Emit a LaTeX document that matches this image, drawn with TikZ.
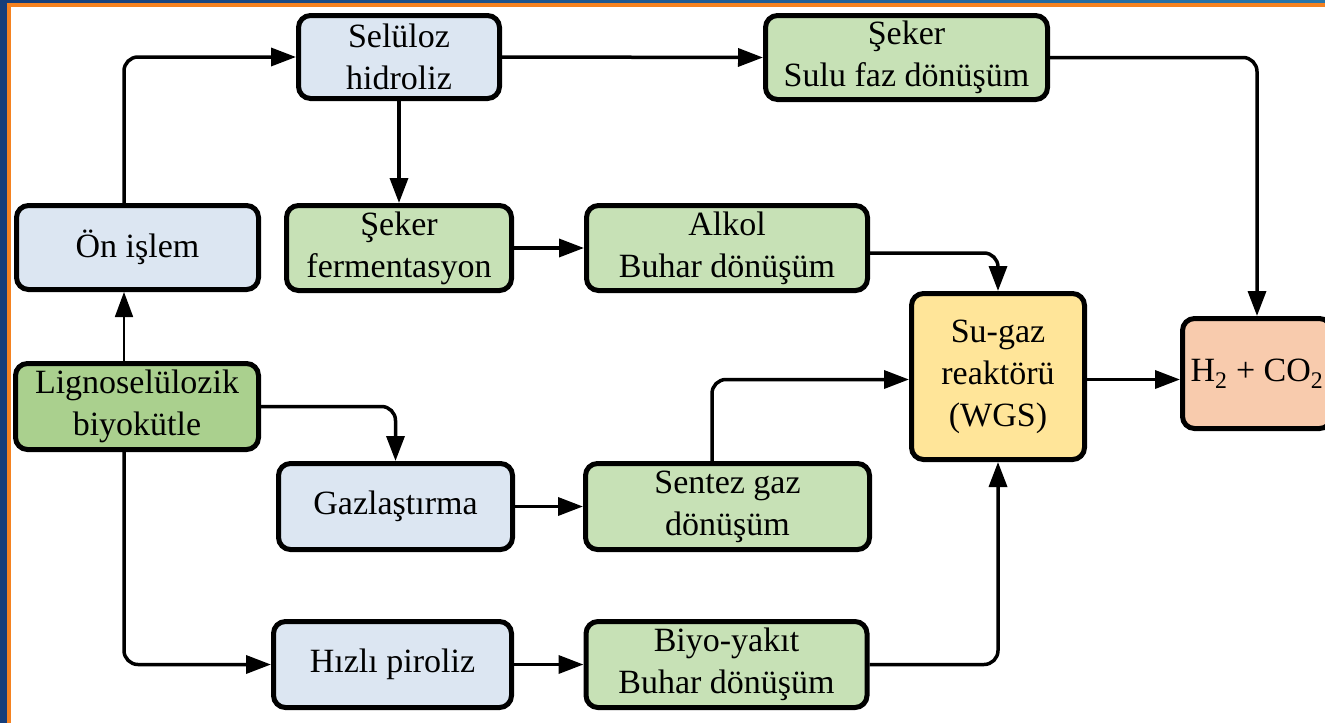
\documentclass[tikz,border=0pt]{standalone}
\usepackage{fontspec}
\setmainfont{Liberation Serif}
\usetikzlibrary{arrows.meta}
\definecolor{frameblue}{RGB}{22,62,122}
\definecolor{frameteal}{RGB}{40,118,170}
\definecolor{frameorange}{RGB}{245,130,32}
\definecolor{procblue}{RGB}{220,230,242}
\definecolor{procgreen}{RGB}{199,225,182}
\definecolor{feedgreen}{RGB}{170,208,142}
\definecolor{wgsyellow}{RGB}{255,229,153}
\definecolor{prodpeach}{RGB}{248,203,173}
\tikzset{
  box/.style={draw=black, line width=5pt, rounded corners=12pt, inner sep=0pt,
    align=center, font=\fontsize{34}{42}\selectfont},
  bluebox/.style={box, fill=procblue},
  greenbox/.style={box, fill=procgreen},
  flow/.style={line width=3.5pt, rounded corners=14pt,
    -{Triangle[length=25pt,width=18pt]}},
  thinflow/.style={line width=1.8pt, -{Triangle[length=25pt,width=18pt]}}
}
\begin{document}
\begin{tikzpicture}[x=1pt,y=-1pt]
\useasboundingbox (0,0) rectangle (1325,723);
\clip (0,0) rectangle (1325,723);
\fill[white] (0,0) rectangle (1325,723);
% frame bands along the left and top edges
\shade[left color=frameblue, right color=frameteal] (0,0) rectangle (1325,3);
\fill[frameblue] (0,0) rectangle (6.5,723);
\fill[frameorange] (6.5,3) rectangle (1325,6.5);
\fill[frameorange] (6.5,3) rectangle (10.5,723);

% process boxes
\node[bluebox, minimum width=201pt, minimum height=83pt] (sel) at (399,57) {Selüloz\\hidroliz};
\node[greenbox, minimum width=282pt, minimum height=84pt] (sulu) at (906.5,57.5) {Şeker\\Sulu faz dönüşüm};
\node[bluebox, minimum width=242pt, minimum height=84pt] (on) at (137.5,247.5) {Ön işlem};
\node[greenbox, minimum width=225pt, minimum height=85pt] (fer) at (399,248) {Şeker\\fermentasyon};
\node[greenbox, minimum width=281pt, minimum height=85pt] (alk) at (727,248) {Alkol\\Buhar dönüşüm};
\node[box, fill=wgsyellow, minimum width=173pt, minimum height=166pt] (wgs) at (998,376.5) {Su-gaz\\reaktörü\\(WGS)};
\node[box, fill=prodpeach, minimum width=149pt, minimum height=110pt] (h2) at (1257,373.5) {H\textsubscript{2} + CO\textsubscript{2}};
\node[box, fill=feedgreen, minimum width=243pt, minimum height=86pt] (lig) at (137,406.5) {Lignoselülozik\\biyokütle};
\node[bluebox, minimum width=234pt, minimum height=86pt] (gaz) at (395.5,506.5) {Gazlaştırma};
\node[greenbox, minimum width=284pt, minimum height=86pt] (sen) at (727.5,506.5) {Sentez gaz\\dönüşüm};
\node[bluebox, minimum width=238pt, minimum height=86pt] (hiz) at (392.5,664.5) {Hızlı piroliz};
\node[greenbox, minimum width=281pt, minimum height=86pt] (biy) at (726.5,664.5) {Biyo-yakıt\\Buhar dönüşüm};

% connectors
\coordinate (onup) at ([xshift=-13.5pt]on.north);
\coordinate (ondown) at ([xshift=-13.5pt]on.south);
\coordinate (ligup) at ([xshift=-13pt]lig.north);
\coordinate (ligdown) at ([xshift=-13pt]lig.south);
\coordinate (sentop) at ([xshift=-15.5pt]sen.north);
\coordinate (alkout) at ([yshift=-5pt]alk.east);

\draw[flow] (onup) |- (sel.west);
\draw[thinflow] (ligup) -- (ondown);
\draw[flow] (ligdown) |- (hiz.west);
\draw[flow] (lig.east) -| (gaz.north);
\draw[flow] (sel.south) -- (fer.north);
\draw[flow] (sel.east) -- (sulu.west);
\draw[flow] (sulu.east) -| (h2.north);
\draw[flow] (fer.east) -- (alk.west);
\draw[flow] (alkout) -| (wgs.north);
\draw[flow] (gaz.east) -- (sen.west);
\draw[flow] (sentop) |- ([yshift=-3pt]wgs.west);
\draw[flow] (hiz.east) -- (biy.west);
\draw[flow] (biy.east) -| (wgs.south);
\draw[flow] ([yshift=-3pt]wgs.east) -- ([yshift=-3pt]h2.west |- wgs.east);
\end{tikzpicture}
\end{document}
